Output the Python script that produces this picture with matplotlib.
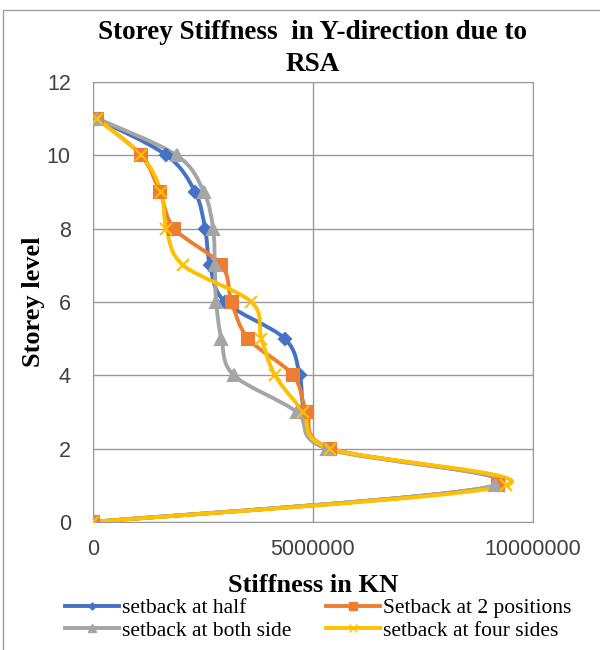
import matplotlib.pyplot as plt
import numpy as np
from matplotlib.path import Path
from matplotlib.patches import PathPatch, Rectangle
from matplotlib.lines import Line2D

levels = [0, 1, 2, 3, 4, 5, 6, 7, 8, 9, 10, 11]

# stiffness values (KN) per storey level
half = [0, 9.2e6, 5.4e6, 4.82e6, 4.7e6, 4.36e6, 3.0e6, 2.66e6, 2.55e6, 2.32e6, 1.67e6, 0.08e6]
two_pos = [0, 9.2e6, 5.4e6, 4.86e6, 4.55e6, 3.53e6, 3.15e6, 2.92e6, 1.85e6, 1.52e6, 1.09e6, 0.09e6]
both_side = [0, 9.15e6, 5.31e6, 4.63e6, 3.2e6, 2.92e6, 2.8e6, 2.77e6, 2.73e6, 2.52e6, 1.9e6, 0.1e6]
four_sides = [0, 9.4e6, 5.4e6, 4.78e6, 4.14e6, 3.83e6, 3.6e6, 2.05e6, 1.67e6, 1.55e6, 1.1e6, 0.08e6]

names = ["setback at half", "Setback at 2 positions", "setback at both side", "setback at four sides"]
colors = ["#4472c4", "#ed7d31", "#a5a5a5", "#ffc000"]
markers = ["D", "s", "^", "x"]
msizes = [6, 9, 9, 9]

serif = "Liberation Serif"
sans = "Liberation Sans"


def smooth_path(xs, ys):
    # excel-like smoothed line: cubic bezier segments through the points
    p = np.column_stack([xs, ys]).astype(float)
    verts = [p[0]]
    codes = [Path.MOVETO]
    n = len(p)
    for i in range(n - 1):
        p0 = p[i - 1] if i > 0 else p[i]
        p3 = p[i + 2] if i + 2 < n else p[i + 1]
        c1 = p[i] + (p[i + 1] - p0) / 6
        c2 = p[i + 1] - (p3 - p[i]) / 6
        verts += [c1, c2, p[i + 1]]
        codes += [Path.CURVE4] * 3
    return Path(verts, codes)


fig = plt.figure(figsize=(6, 6.5), dpi=100)
ax = fig.add_axes([0.155, 0.197, 0.733, 0.677])

series = [half, two_pos, both_side, four_sides]
for vals, c, m, ms, name in zip(series, colors, markers, msizes, names):
    ax.add_patch(PathPatch(smooth_path(vals, levels), fill=False, edgecolor=c, lw=2.8, zorder=3))
    ax.plot(vals, levels, ls="none", marker=m, color=c, ms=ms, mew=1.5, zorder=4)

ax.set_xlim(0, 10e6)
ax.set_ylim(0, 12)
ax.set_xticks([0, 5e6, 10e6])
ax.set_xticklabels(["0", "5000000", "10000000"])
ax.set_yticks(range(0, 13, 2))
ax.grid(True, color="#999999", lw=1)
ax.set_axisbelow(True)
for s in ax.spines.values():
    s.set_color("#999999")
ax.tick_params(length=0, labelsize=15.5, colors="#404040")
ax.tick_params(axis="x", pad=12)
ax.tick_params(axis="y", pad=16)
for lab in ax.get_xticklabels() + ax.get_yticklabels():
    lab.set_family(sans)

ax.set_title("Storey Stiffness  in Y-direction due to\nRSA", family=serif,
             fontweight="bold", fontsize=19.5, pad=8, linespacing=1.35)
ax.set_xlabel("Stiffness in KN", family=serif, fontweight="bold", fontsize=19, labelpad=10)
ax.set_ylabel("Storey level", family=serif, fontweight="bold", fontsize=19, labelpad=1)

# matplotlib fills legend column-wise, so order for row-wise reading
order = [0, 2, 1, 3]
handles = [Line2D([], [], color=colors[i], marker=markers[i], ms=msizes[i] * 0.6, lw=2.8) for i in order]
fig.legend(handles, [names[i] for i in order], loc="lower center", bbox_to_anchor=(0.53, -0.006), ncol=2,
           frameon=False, prop={"family": serif, "size": 15.5}, handlelength=2.5,
           handletextpad=0.15, columnspacing=1.6, labelspacing=0.12, borderpad=0.1)

fig.add_artist(Rectangle((0.005, -0.1), 1.2, 0.1 + 1 - 10 / 650, transform=fig.transFigure,
                         fill=False, edgecolor="#a0a0a0", lw=1))

fig.savefig("out.png", dpi=100)
